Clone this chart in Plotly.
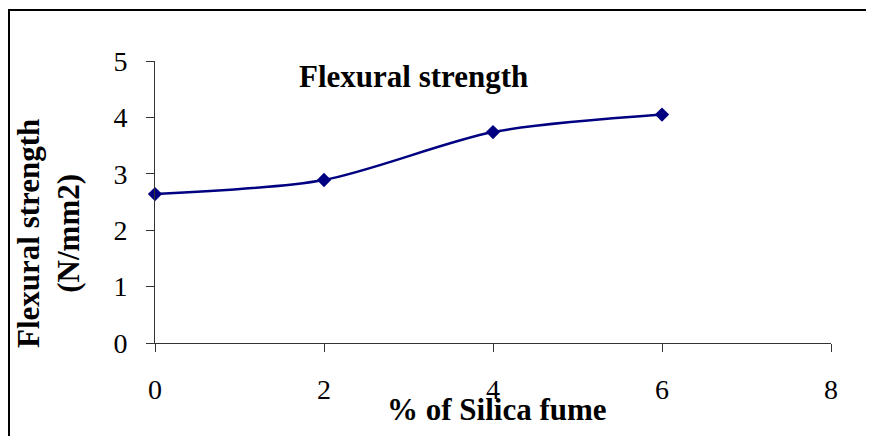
import plotly.graph_objects as go

silica_fume = [0, 2, 4, 6]
flexural_strength = [2.64, 2.89, 3.74, 4.05]
x_ticks = [0, 2, 4, 6, 8]
y_ticks = [0, 1, 2, 3, 4, 5]

FONT = "Liberation Serif"
OFF = 8  # page body margin
W, H = 874, 436
L, T = 155 - OFF, 61 - OFF
R = W - (831 - OFF)
B = H - (343 - OFF)
pw, ph = W - L - R, H - T - B

def px(x):
    return (x - OFF - L) / pw

def py(y):
    return (H - B - (y - OFF)) / ph

fig = go.Figure()
fig.add_trace(go.Scatter(
    x=silica_fume, y=flexural_strength, mode="lines+markers",
    line=dict(color="#000080", width=2.5, shape="spline", smoothing=0.8),
    marker=dict(symbol="diamond", size=11, color="#000080"),
    showlegend=False, cliponaxis=False,
))

axis_common = dict(showgrid=False, zeroline=False, showline=True, linecolor="#333333",
                   linewidth=1, ticks="outside", ticklen=8, tickcolor="#333333",
                   tickfont=dict(family=FONT, size=28, color="black"))
fig.update_xaxes(range=[0, 8], tickvals=x_ticks, ticklabelstandoff=13, **axis_common)
fig.update_yaxes(range=[0, 5], tickvals=y_ticks, ticklabelstandoff=13, **axis_common)

ann = dict(xref="paper", yref="paper", showarrow=False, xanchor="center", yanchor="middle")
fig.add_annotation(text="<b>Flexural strength</b>", x=px(413), y=py(76),
                   font=dict(family=FONT, size=31, color="black"), **ann)
fig.add_annotation(text="<b>% of Silica fume</b>", x=px(497), y=py(409),
                   font=dict(family=FONT, size=31, color="black"), **ann)
fig.add_annotation(text="<b>Flexural strength<br>(N/mm2)</b>", x=px(49), y=py(234),
                   textangle=-90, font=dict(family=FONT, size=31, color="black"), **ann)

# chart border (left and top edges visible)
fig.add_shape(type="line", xref="paper", yref="paper", x0=px(9), x1=px(9), y0=py(10), y1=py(H + 20),
              line=dict(color="black", width=2))
fig.add_shape(type="line", xref="paper", yref="paper", x0=px(8), x1=px(W + 20), y0=py(10), y1=py(10),
              line=dict(color="black", width=2))

fig.update_layout(width=W, height=H, margin=dict(l=L, r=R, t=T, b=B),
                  paper_bgcolor="white", plot_bgcolor="white")
fig.write_html("out.html")
